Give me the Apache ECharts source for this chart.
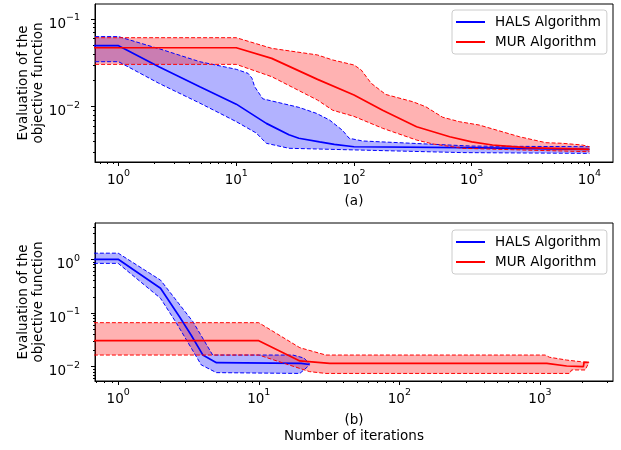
<!DOCTYPE html>
<html>
<head>
<meta charset="utf-8">
<script src="https://cdn.jsdelivr.net/npm/echarts@6/dist/echarts.min.js"></script>
<style>
html,body{margin:0;padding:0;background:#fff;}
#chart{width:621px;height:450px;}
</style>
</head>
<body>
<div id="chart"></div>
<script>
// ---------- data (iteration counts and objective values) ----------
// Panel (a)
const halsAMeanX  = [0.5, 1, 2.2, 4.9, 10, 18, 28, 34, 51, 68, 100, 830, 10000];
const halsAMean   = [0.0497, 0.0497, 0.0286, 0.0169, 0.0107, 0.00646, 0.00479, 0.00437, 0.00398, 0.00373, 0.0035, 0.00341, 0.00327];
const halsAUpperX = [0.5, 1, 2.4, 4.9, 10, 12.6, 13.6, 14.3, 16.8, 34, 48, 62, 80, 91, 118, 1000, 10000];
const halsAUpper  = [0.063, 0.063, 0.0443, 0.0326, 0.0267, 0.024, 0.0211, 0.017, 0.0123, 0.00984, 0.0084, 0.00705, 0.00537, 0.00437, 0.00407, 0.00356, 0.0035];
const halsALowerX = [0.5, 1, 2.2, 4.9, 10, 14.8, 18, 28, 48, 830, 10000];
const halsALower  = [0.0326, 0.0326, 0.0185, 0.011, 0.00676, 0.00501, 0.00383, 0.00336, 0.0033, 0.0030, 0.00294];

const murAMeanX  = [0.5, 10, 20, 49, 100, 175, 340, 650, 1000, 1500, 2900, 10000];
const murAMean   = [0.047, 0.047, 0.0356, 0.0205, 0.0136, 0.00912, 0.00592, 0.00455, 0.00398, 0.00366, 0.00341, 0.00327];
const murAUpperX = [0.5, 10, 20, 49, 66, 100, 115, 140, 186, 316, 407, 566, 785, 1160, 2540, 4270, 5900, 8700, 10000];
const murAUpper  = [0.0612, 0.0612, 0.0463, 0.0389, 0.0341, 0.0299, 0.0263, 0.0185, 0.0138, 0.0114, 0.01, 0.00759, 0.00675, 0.00618, 0.00455, 0.00389, 0.00383, 0.00366, 0.0035];
const murALowerX = [0.5, 10, 20, 49, 66, 100, 175, 340, 470, 830, 3000, 10000];
const murALower  = [0.0304, 0.0304, 0.022, 0.0119, 0.00912, 0.00776, 0.00568, 0.00417, 0.00376, 0.00336, 0.0032, 0.00307];

// Panel (b)
const halsBMeanX  = [0.5, 1, 2, 2.73, 3.3, 4, 5, 20, 23];
const halsBMean   = [1.0, 1.0, 0.29, 0.0853, 0.039, 0.0166, 0.0119, 0.0115, 0.011];
const halsBUpperX = [0.5, 1, 2, 3.4, 4.7, 17.5, 21, 23];
const halsBUpper  = [1.3, 1.3, 0.41, 0.069, 0.0165, 0.0165, 0.0145, 0.0112];
const halsBLowerX = [0.5, 1, 2, 2.6, 3.9, 5, 19.6, 23];
const halsBLower  = [0.84, 0.84, 0.188, 0.0645, 0.0108, 0.00776, 0.0075, 0.0108];

const murBMeanX  = [0.5, 10, 19.6, 32, 1120, 1550, 2040, 2060, 2230];
const murBMean   = [0.0305, 0.0305, 0.0128, 0.0115, 0.0115, 0.0103, 0.0100, 0.012, 0.012];
const murBUpperX = [0.5, 10, 19.6, 30, 1090, 1170, 1550, 1950, 2230];
const murBUpper  = [0.066, 0.066, 0.0226, 0.0165, 0.0165, 0.015, 0.0133, 0.0124, 0.012];
const murBLowerX = [0.5, 10, 23, 30, 1630, 1680, 2100, 2230];
const murBLower  = [0.0165, 0.0165, 0.0081, 0.0075, 0.0075, 0.0087, 0.0087, 0.012];

// tick labels (log10 exponents)
const xTicksA = [0, 1, 2, 3, 4];
const xTicksB = [0, 1, 2, 3];
const yTicksA = [-2, -1];
const yTicksB = [-2, -1, 0];

const legendNames = ['HALS Algorithm', 'MUR Algorithm'];
const yName = 'Evaluation of the\nobjective function';

// ---------- helpers ----------
const lg = v => Math.log10(v);
const BLUE = '#0000ff', RED = '#ff0000';
const BLUE_FILL = 'rgba(0,0,255,0.3)', RED_FILL = 'rgba(255,0,0,0.3)';
const FS = 13.5;

function powLabel(v) {
  const e = Math.round(v);
  return '{b|10}{s|' + (e < 0 ? '\u2212' + (-e) : String(e)) + '}';
}
const labelRich = {
  b: {fontSize: FS, lineHeight: 18, verticalAlign: 'bottom', color: '#000', fontFamily: 'DejaVu Sans'},
  s: {fontSize: 9.5, lineHeight: 18, verticalAlign: 'top', color: '#000', fontFamily: 'DejaVu Sans'}
};

function minors(lo, hi) {
  const out = [];
  for (let k = Math.floor(lo) - 1; k <= Math.ceil(hi); k++) {
    for (let m = 2; m <= 9; m++) {
      const v = k + Math.log10(m);
      if (v >= lo && v <= hi) out.push(v);
    }
  }
  return out;
}
function pairs(xs, ys) { return xs.map((x, i) => [lg(x), lg(ys[i])]); }

function lineSeries(name, xi, xs, ys, color, dashed) {
  return {
    type: 'line', name: name, xAxisIndex: xi, yAxisIndex: xi,
    data: pairs(xs, ys), showSymbol: false, symbol: 'none', clip: true, silent: true,
    itemStyle: {color: color},
    lineStyle: {color: color, width: dashed ? 1 : 1.7, type: dashed ? [4, 2] : 'solid'},
    animation: false
  };
}
function bandSeries(xi, upX, upY, loX, loY, fill) {
  const pts = pairs(upX, upY).concat(pairs(loX, loY).reverse());
  return {
    type: 'custom', xAxisIndex: xi, yAxisIndex: xi, silent: true, clip: true, animation: false,
    data: [pts[1]],
    renderItem: function (params, api) {
      const cs = params.coordSys;
      return {
        type: 'group',
        clipPath: {type: 'rect', shape: {x: cs.x, y: cs.y, width: cs.width, height: cs.height}},
        children: [{type: 'polygon', shape: {points: pts.map(p => api.coord(p))}, style: {fill: fill}}]
      };
    }
  };
}

const axisLine = {show: true, onZero: false, lineStyle: {color: '#000', width: 1}};
function majorX(grid, min, max, ticks, name, lh) {
  return {
    type: 'value', gridIndex: grid, min: min, max: max, position: 'bottom',
    axisLine: axisLine,
    axisTick: {show: true, length: 4, lineStyle: {color: '#000'}, customValues: ticks},
    axisLabel: {show: true, customValues: ticks, margin: 7, formatter: powLabel, rich: labelRich},
    splitLine: {show: false},
    name: name, nameLocation: 'middle', nameGap: 31, nameMoveOverlap: false,
    nameTextStyle: {fontSize: FS, color: '#000', fontFamily: 'DejaVu Sans', lineHeight: lh, verticalAlign: 'top'}
  };
}
function minorX(grid, min, max) {
  return {
    type: 'value', gridIndex: grid, min: min, max: max, position: 'bottom',
    axisLine: {show: false, onZero: false},
    axisTick: {show: true, length: 2, lineStyle: {color: '#000'}, customValues: minors(min, max)},
    axisLabel: {show: false}, splitLine: {show: false}
  };
}
function majorY(grid, min, max, ticks) {
  return {
    type: 'value', gridIndex: grid, min: min, max: max, position: 'left',
    axisLine: axisLine,
    axisTick: {show: true, length: 4, lineStyle: {color: '#000'}, customValues: ticks},
    axisLabel: {show: true, customValues: ticks, margin: 15, padding: [6, 0, 0, 0], formatter: powLabel, rich: labelRich},
    splitLine: {show: false},
    name: yName, nameLocation: 'middle', nameGap: 49, nameRotate: 90, nameMoveOverlap: false,
    nameTextStyle: {fontSize: FS, color: '#000', fontFamily: 'DejaVu Sans', lineHeight: 15}
  };
}
function minorY(grid, min, max) {
  return {
    type: 'value', gridIndex: grid, min: min, max: max, position: 'left',
    axisLine: {show: false, onZero: false},
    axisTick: {show: true, length: 2, lineStyle: {color: '#000'}, customValues: minors(min, max)},
    axisLabel: {show: false}, splitLine: {show: false}
  };
}
function legendAt(top) {
  return {
    data: legendNames, left: 452, top: top, orient: 'vertical', selectedMode: false,
    icon: 'rect', itemWidth: 29, itemHeight: 2, itemGap: 4,
    padding: [4, 6, 4, 4],
    borderColor: '#cccccc', borderWidth: 1, borderRadius: 3,
    backgroundColor: 'rgba(255,255,255,0.8)',
    textStyle: {fontSize: FS, color: '#000', fontFamily: 'DejaVu Sans', lineHeight: 16, padding: [0, 0, 0, 5]}
  };
}

const XA = [-0.2, 4.2], YA = [-2.63, -0.829];
const XB = [-0.165, 3.52], YB = [-2.266, 0.676];

const option = {
  animation: false,
  textStyle: {fontFamily: 'DejaVu Sans'},
  grid: [
    {left: 95, top: 4, width: 518, height: 158, show: true, borderColor: '#000', borderWidth: 1, backgroundColor: 'transparent'},
    {left: 95, top: 223, width: 518, height: 158, show: true, borderColor: '#000', borderWidth: 1, backgroundColor: 'transparent'}
  ],
  xAxis: [
    majorX(0, XA[0], XA[1], xTicksA, '(a)', 16),
    majorX(1, XB[0], XB[1], xTicksB, '(b)\nNumber of iterations', 16),
    minorX(0, XA[0], XA[1]),
    minorX(1, XB[0], XB[1])
  ],
  yAxis: [
    majorY(0, YA[0], YA[1], yTicksA),
    majorY(1, YB[0], YB[1], yTicksB),
    minorY(0, YA[0], YA[1]),
    minorY(1, YB[0], YB[1])
  ],
  legend: [legendAt(10), legendAt(230)],
  series: [
    bandSeries(0, halsAUpperX, halsAUpper, halsALowerX, halsALower, BLUE_FILL),
    lineSeries('HALS Algorithm', 0, halsAMeanX, halsAMean, BLUE, false),
    lineSeries('halsAUpper', 0, halsAUpperX, halsAUpper, BLUE, true),
    lineSeries('halsALower', 0, halsALowerX, halsALower, BLUE, true),
    bandSeries(0, murAUpperX, murAUpper, murALowerX, murALower, RED_FILL),
    lineSeries('MUR Algorithm', 0, murAMeanX, murAMean, RED, false),
    lineSeries('murAUpper', 0, murAUpperX, murAUpper, RED, true),
    lineSeries('murALower', 0, murALowerX, murALower, RED, true),

    bandSeries(1, halsBUpperX, halsBUpper, halsBLowerX, halsBLower, BLUE_FILL),
    lineSeries('HALS Algorithm', 1, halsBMeanX, halsBMean, BLUE, false),
    lineSeries('halsBUpper', 1, halsBUpperX, halsBUpper, BLUE, true),
    lineSeries('halsBLower', 1, halsBLowerX, halsBLower, BLUE, true),
    bandSeries(1, murBUpperX, murBUpper, murBLowerX, murBLower, RED_FILL),
    lineSeries('MUR Algorithm', 1, murBMeanX, murBMean, RED, false),
    lineSeries('murBUpper', 1, murBUpperX, murBUpper, RED, true),
    lineSeries('murBLower', 1, murBLowerX, murBLower, RED, true)
  ]
};

const chart = echarts.init(document.getElementById('chart'), null, {renderer: 'canvas'});
chart.setOption(option);
</script>
</body>
</html>
